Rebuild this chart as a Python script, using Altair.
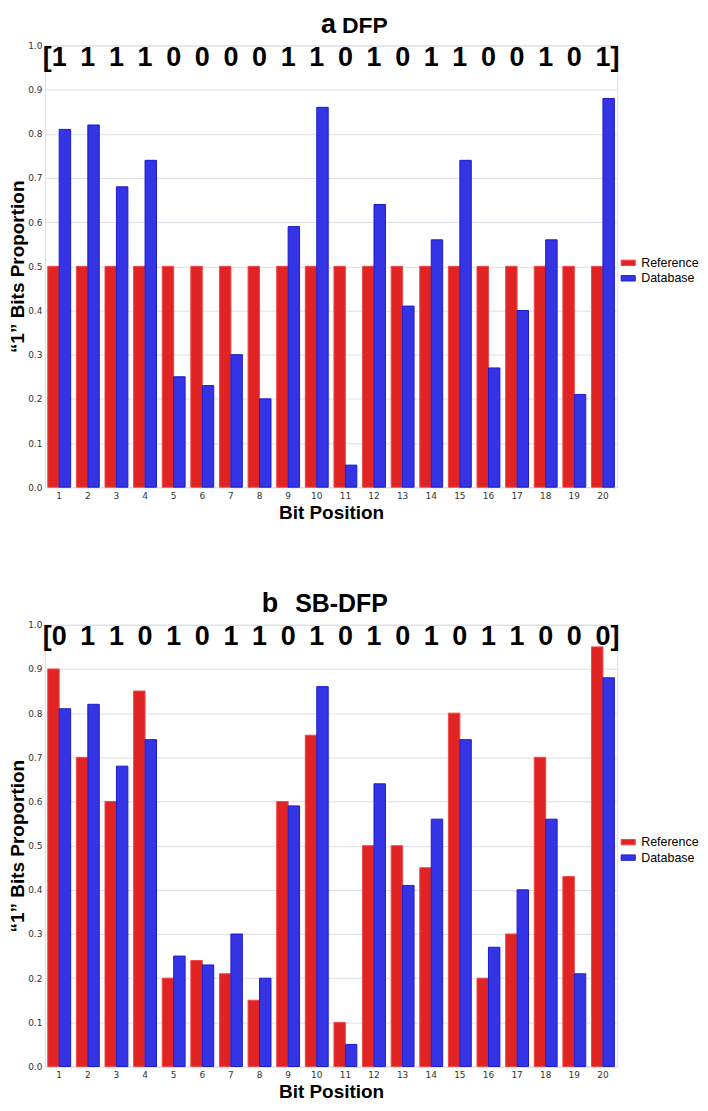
import altair as alt
import pandas as pd

positions = list(range(1, 21))
series_names = ["Reference", "Database"]

dfp_reference = [0.50, 0.50, 0.50, 0.50, 0.50, 0.50, 0.50, 0.50, 0.50, 0.50,
                 0.50, 0.50, 0.50, 0.50, 0.50, 0.50, 0.50, 0.50, 0.50, 0.50]
dfp_database = [0.81, 0.82, 0.68, 0.74, 0.25, 0.23, 0.30, 0.20, 0.59, 0.86,
                0.05, 0.64, 0.41, 0.56, 0.74, 0.27, 0.40, 0.56, 0.21, 0.88]
dfp_bits = ["1", "1", "1", "1", "0", "0", "0", "0", "1", "1",
            "0", "1", "0", "1", "1", "0", "0", "1", "0", "1"]

sbdfp_reference = [0.90, 0.70, 0.60, 0.85, 0.20, 0.24, 0.21, 0.15, 0.60, 0.75,
                   0.10, 0.50, 0.50, 0.45, 0.80, 0.20, 0.30, 0.70, 0.43, 0.95]
sbdfp_database = [0.81, 0.82, 0.68, 0.74, 0.25, 0.23, 0.30, 0.20, 0.59, 0.86,
                  0.05, 0.64, 0.41, 0.56, 0.74, 0.27, 0.40, 0.56, 0.21, 0.88]
sbdfp_bits = ["0", "1", "1", "0", "1", "0", "1", "1", "0", "1",
              "0", "1", "0", "1", "0", "1", "1", "0", "0", "0"]

y_ticks = [0.0, 0.1, 0.2, 0.3, 0.4, 0.5, 0.6, 0.7, 0.8, 0.9, 1.0]

FONT = "Liberation Sans"
BIT_Y = 0.972
PLOT_W = 574
PLOT_H = 443


def panel(letter, name, letter_x, name_size, ref, db, bits):
    df = pd.DataFrame({
        "pos": positions * 2,
        "series": [series_names[0]] * 20 + [series_names[1]] * 20,
        "value": ref + db,
    })
    bits_df = pd.DataFrame({"pos": positions, "bit": bits})
    lb_df = pd.DataFrame({"pos": [positions[0]], "b": ["["]})
    rb_df = pd.DataFrame({"pos": [positions[-1]], "b": ["]"]})

    x_enc = alt.X(
        "pos:O",
        title="Bit Position",
        scale=alt.Scale(paddingInner=0.2, paddingOuter=0.1),
        axis=alt.Axis(labelAngle=0, labelFontSize=9, labelColor="#333333",
                      labelFont="DejaVu Sans",
                      ticks=False, domain=False, grid=False, labelPadding=4,
                      titleFontSize=19, titleFont=FONT, titleFontWeight="bold",
                      titleColor="black", titlePadding=3),
    )
    y_enc = alt.Y(
        "value:Q",
        title="\u201c1\u201d Bits Proportion",
        scale=alt.Scale(domain=[0, 1], nice=False),
        axis=alt.Axis(values=y_ticks, format=".1f", labelFontSize=9,
                      labelFont="DejaVu Sans", labelColor="#333333",
                      ticks=False, domain=False, labelPadding=3,
                      gridColor="#dedee8", gridWidth=1,
                      titleFontSize=19, titleFont=FONT, titleFontWeight="bold",
                      titleColor="black", titlePadding=0),
    )

    bars = alt.Chart(df).mark_bar(strokeWidth=1).encode(
        x=x_enc,
        xOffset=alt.XOffset("series:N", sort=series_names),
        y=y_enc,
        color=alt.Color(
            "series:N", sort=series_names,
            scale=alt.Scale(domain=series_names, range=["#e02323", "#3434e4"]),
            legend=alt.Legend(
                title=None, orient="none", legendX=577, legendY=210,
                symbolType="M-1,-0.38L1,-0.38L1,0.38L-1,0.38Z",
                symbolSize=200, symbolStrokeWidth=1,
                labelFontSize=12.5, labelFont=FONT, labelColor="black",
                labelOffset=5, rowPadding=0.5, padding=0,
            ),
        ),
        stroke=alt.Stroke(
            "series:N", sort=series_names,
            scale=alt.Scale(domain=series_names, range=["#f04848", "#1c1cd0"]),
            legend=None,
        ),
    )

    x_plain = alt.X("pos:O", title="Bit Position")

    text = alt.Chart(bits_df).mark_text(
        fontSize=27, fontWeight="bold", font=FONT, baseline="middle",
        align="center", color="black",
    ).encode(x=x_plain, y=alt.datum(BIT_Y), text="bit:N")

    lbr = alt.Chart(lb_df).mark_text(
        fontSize=27, fontWeight="bold", font=FONT, baseline="middle",
        align="center", color="black", dx=-12,
    ).encode(x=x_plain, y=alt.datum(BIT_Y), text="b:N")

    rbr = alt.Chart(rb_df).mark_text(
        fontSize=27, fontWeight="bold", font=FONT, baseline="middle",
        align="center", color="black", dx=12,
    ).encode(x=x_plain, y=alt.datum(BIT_Y), text="b:N")

    letter_mark = alt.Chart(pd.DataFrame({"t": [letter]})).mark_text(
        fontSize=27, fontWeight="bold", font=FONT, baseline="alphabetic",
        align="right", color="black",
    ).encode(x=alt.value(letter_x), y=alt.value(-13), text="t:N")

    name_mark = alt.Chart(pd.DataFrame({"t": [name]})).mark_text(
        fontSize=name_size, fontWeight="bold", font=FONT, baseline="alphabetic",
        align="right", color="black",
    ).encode(x=alt.value(344), y=alt.value(-13), text="t:N")

    return alt.layer(bars, text, lbr, rbr, letter_mark, name_mark).properties(
        width=PLOT_W,
        height=PLOT_H,
    )


chart_a = panel("a", "DFP", 292, 23, dfp_reference, dfp_database, dfp_bits)
chart_b = panel("b", "SB-DFP", 234, 25, sbdfp_reference, sbdfp_database, sbdfp_bits)

chart = alt.vconcat(chart_a, chart_b, spacing=66).resolve_scale(
    color="independent", stroke="independent"
).configure_view(
    stroke="#dcdce8", strokeWidth=1
).properties(
    padding={"left": 0, "top": 0, "right": 0, "bottom": -2},
    background="white",
)

chart.save("out.html", embed_options={"renderer": "svg", "actions": False})
